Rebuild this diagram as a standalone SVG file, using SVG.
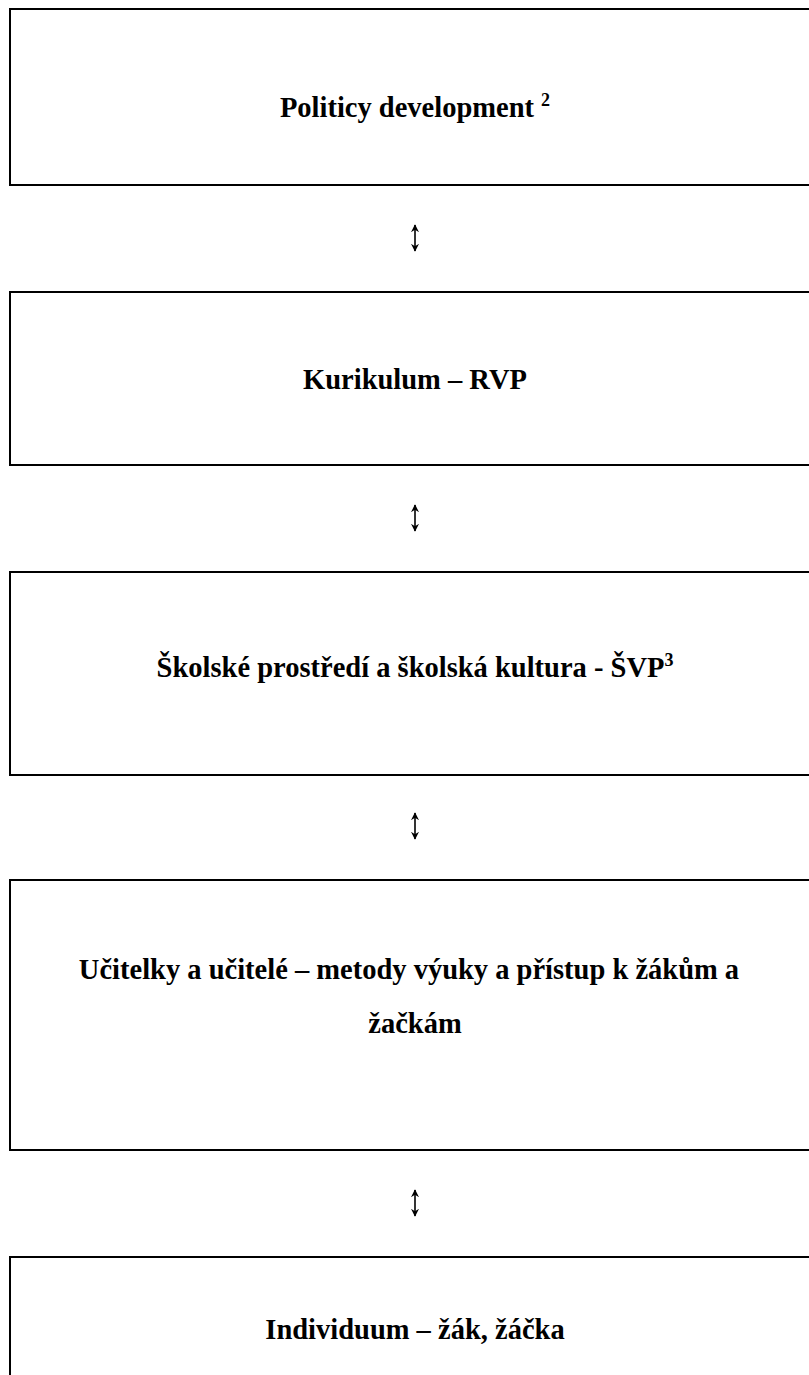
<svg xmlns="http://www.w3.org/2000/svg" width="809" height="1375" viewBox="0 0 809 1375">
<style>
.box{fill:#fff;stroke:#000;stroke-width:2}
.t{font-family:"Liberation Serif","Times New Roman",serif;font-weight:bold;font-size:28.5px;fill:#000;text-anchor:middle}
.sup{font-size:18px}
.arr{stroke:#000;stroke-width:1.6;fill:none}
</style>
<defs>
<marker id="ah" viewBox="0 0 10 10" refX="9" refY="5" markerWidth="8" markerHeight="10" markerUnits="userSpaceOnUse" orient="auto-start-reverse">
<path d="M0,0 L10,5 L0,10 L3,5 Z" fill="#000"/>
</marker>
</defs>
<rect x="0" y="0" width="809" height="1375" fill="#fff"/>
<g id="node1"><rect class="box" x="10" y="9" width="820" height="176"/><text class="t" x="415" y="117">Politicy development <tspan class="sup" dy="-11">2</tspan></text></g>
<g id="node2"><rect class="box" x="10" y="292" width="820" height="173"/><text class="t" x="415" y="389">Kurikulum – RVP</text></g>
<g id="node3"><rect class="box" x="10" y="572" width="820" height="203"/><text class="t" x="415" y="677">Školské prostředí a školská kultura - ŠVP<tspan class="sup" dy="-11">3</tspan></text></g>
<g id="node4"><rect class="box" x="10" y="880" width="820" height="270"/><text class="t" x="409" y="979">Učitelky a učitelé – metody výuky a přístup k žákům a</text><text class="t" x="415" y="1033">žačkám</text></g>
<g id="node5"><rect class="box" x="10" y="1257" width="820" height="140"/><text class="t" x="415" y="1339">Individuum – žák, žáčka</text></g>
<g id="connectors">
<line class="arr" x1="415" y1="225" x2="415" y2="251" marker-start="url(#ah)" marker-end="url(#ah)"/>
<line class="arr" x1="415" y1="505" x2="415" y2="531" marker-start="url(#ah)" marker-end="url(#ah)"/>
<line class="arr" x1="415" y1="813" x2="415" y2="839" marker-start="url(#ah)" marker-end="url(#ah)"/>
<line class="arr" x1="415" y1="1190" x2="415" y2="1216" marker-start="url(#ah)" marker-end="url(#ah)"/>
</g>
</svg>
